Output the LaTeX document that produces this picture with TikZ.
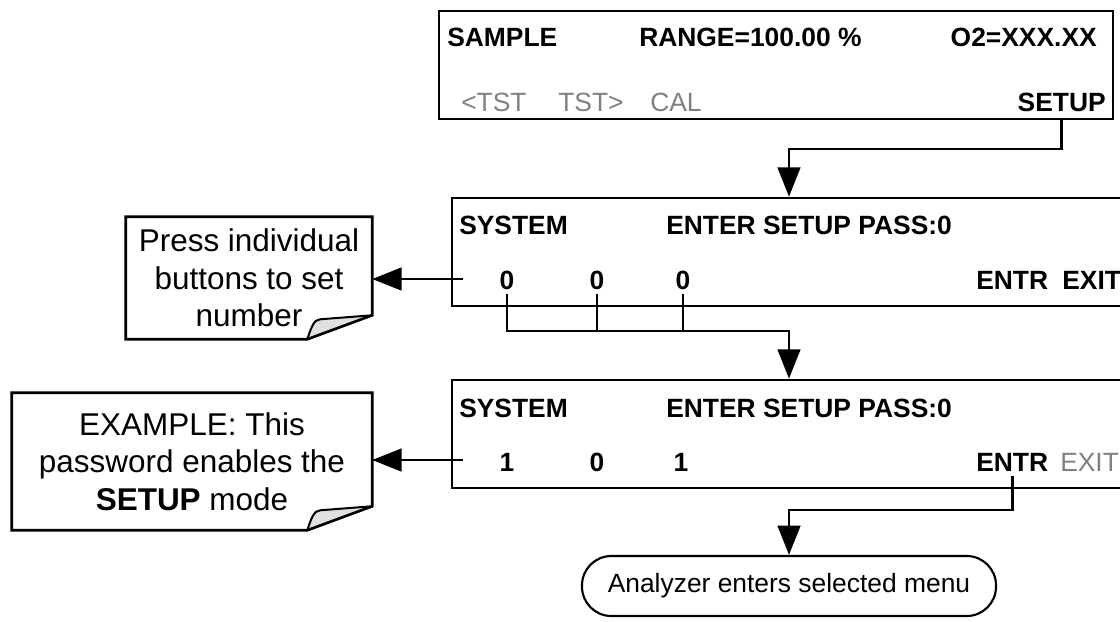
\documentclass[tikz,border=0pt]{standalone}
\usepackage{fontspec}
\setmainfont{Liberation Sans}
\usetikzlibrary{arrows.meta,positioning}

\definecolor{keygray}{gray}{0.5}
\definecolor{foldgray}{gray}{0.88}

\tikzset{
  disp/.style={draw,line width=2pt,minimum width=505.5pt,minimum height=81pt,rectangle},
  key/.style={font=\fontsize{19.8pt}{24pt}\selectfont\bfseries,inner sep=0pt,
    text height=14.2pt,text depth=0pt},
  dimkey/.style={key,font=\fontsize{19.8pt}{24pt}\selectfont,text=keygray},
  digit/.style={key,inner sep=3pt},
  note/.style={align=center,font=\fontsize{23.6pt}{28.1pt}\selectfont,inner sep=0pt},
  pill/.style={draw,line width=1.6pt,rounded corners=22pt,minimum width=310.5pt,
    minimum height=45pt,font=\fontsize{19.8pt}{24pt}\selectfont},
  arr/.style={line width=2pt,-{Triangle[length=22pt,width=17pt]}},
}

\begin{document}
\begin{tikzpicture}[x=0.75pt,y=-0.75pt]
\useasboundingbox (0,0) rectangle (1120,621);
\clip (0,0) rectangle (1120,621);

% display screens
\node[disp] (disp1) at (776,65) {};
\node[disp] (disp2) at (789,252) {};
\node[disp] (disp3) at (789,434) {};

% main screen
\node[key,anchor=west] (sample) at (447,37) {SAMPLE};
\node[key,anchor=west] (range) at (639,37) {RANGE=100.00 \%};
\node[key,anchor=east] (conc) at (1097,37) {O2=XXX.XX};
\node[dimkey,anchor=west] (tstl) at (461,102) {<TST};
\node[dimkey,anchor=west] (tstr) at (558,102) {TST>};
\node[dimkey,anchor=west] (cal) at (650,102) {CAL};
\node[key,anchor=east,inner sep=3pt] (setup) at (1110,102) {SETUP};

% password screen
\node[key,anchor=west] (sys2) at (459,225) {SYSTEM};
\node[key,anchor=west] (pass2) at (666,225) {ENTER SETUP PASS:0};
\node[digit] (a1) at (507,280) {0};
\node[digit] (a2) at (597,280) {0};
\node[digit] (a3) at (683,280) {0};
\node[key,anchor=west] (entr2) at (976,280) {ENTR};
\node[key,anchor=west] (exit2) at (1062,280) {EXIT};

% password entered
\node[key,anchor=west] (sys3) at (459,408) {SYSTEM};
\node[key,anchor=west] (pass3) at (666,408) {ENTER SETUP PASS:0};
\node[digit] (b1) at (507,462) {1};
\node[digit] (b2) at (597,462) {0};
\node[digit] (b3) at (681,462) {1};
\node[key,anchor=west,inner sep=3pt] (entr3) at (972,462) {ENTR};
\node[dimkey,anchor=west] (exit3) at (1060,462) {EXIT};

% callouts
\node[note,minimum width=184.5pt,minimum height=91.5pt] (note1) at (249,278)
  {Press individual\\buttons to set\\number};
\node[note,minimum width=270pt,minimum height=102.75pt] (note2) at (192,461.5)
  {EXAMPLE: This\\password enables the\\\textbf{SETUP} mode};

\foreach \n in {note1,note2}{
  \fill[foldgray] ([xshift=-48.75pt]\n.south east)
    .. controls ([xshift=-46pt,yshift=8pt]\n.south east) and ([xshift=-44pt,yshift=15pt]\n.south east)
    .. ([xshift=-39pt,yshift=15pt]\n.south east) -- ([yshift=18pt]\n.south east) -- cycle;
  \draw[line width=2pt] (\n.north west) -- (\n.north east) -- ([yshift=18pt]\n.south east)
    -- ([xshift=-48.75pt]\n.south east) -- (\n.south west) -- cycle;
  \draw[line width=1.5pt] ([xshift=-48.75pt]\n.south east)
    .. controls ([xshift=-46pt,yshift=8pt]\n.south east) and ([xshift=-44pt,yshift=15pt]\n.south east)
    .. ([xshift=-39pt,yshift=15pt]\n.south east) -- ([yshift=18pt]\n.south east);
}

% result
\node[pill] (menu) at (789,586) {Analyzer enters selected menu};

% connectors
\coordinate (join0) at (789,149);
\coordinate (join1) at (789,331);
\coordinate (join2) at (789,510);
\coordinate (tick2) at (463,279);
\coordinate (tick3) at (463,460);

\draw[arr] (setup |- disp1.south) |- (join0) -- (disp2.north);
\draw[arr] (tick2) -- (tick2 -| note1.east);
\draw[line width=2pt] (a2.south) -- (a2 |- join1);
\draw[line width=2pt] (a3.south) -- (a3 |- join1);
\draw[arr] (a1.south) |- (join1) -- (disp3.north);
\draw[arr] (tick3) -- (tick3 -| note2.east);
\draw[arr] (entr3.south) |- (join2) -- (menu.north);

\end{tikzpicture}
\end{document}
